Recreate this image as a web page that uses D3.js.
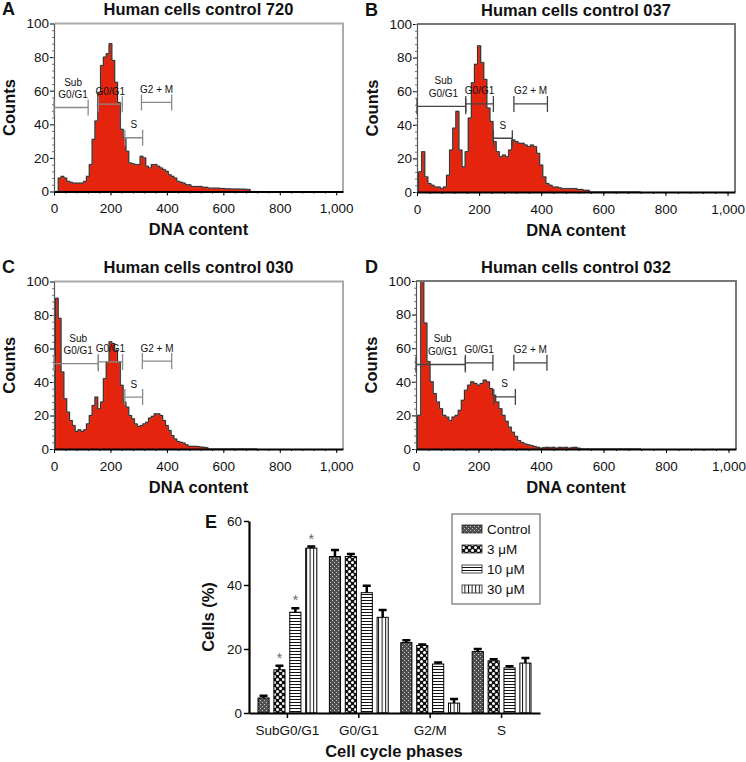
<!DOCTYPE html>
<html><head><meta charset="utf-8">
<script src="https://cdn.jsdelivr.net/npm/d3@7"></script>
<style>
body{margin:0;background:#fff;}
text{font-family:"Liberation Sans",Arial,Helvetica,sans-serif;}
</style></head><body>
<svg id="c" width="746" height="762"></svg>
<script>
// ---------------- DATA ----------------
const binChannels = [0,10,20,30,40,50,60,70,80,90,100,110,120,130,140,150,160,170,180,190,200,210,220,230,240,250,260,270,280,290,300,310,320,330,340,350,360,370,380,390,400,410,420,430,440,450,460,470,480,490,500,510,520,530,540,550,560,570,580,590,600,610,620,630,640,650,660,670,680,690,700,710,720];

const countsA = [0,0,8,9,8,6,5.5,5,5,5, 5,6,9,16,31,42,59,75,80,82, 88,78,65,53,37,32,24,17,16.5,16, 16,21,20,15,14,16,16,15,14,13, 12,10,9,8,6,5.5,5,4,4,3, 3,3,3,2.5,2.5,2,2,2,2,1.8, 1.8,1.6,1.6,1.5,1.5,1.5,1.4,1.4,1.3,1.2, 0,0,0];
const countsB = [0,12,24,9,5,4,3,3,2,3, 10,25,38,48,25,15,24,44,65,76, 87,77,67,50,42,30,24,21,22,21, 25,31,30,29,29,28,27,28,27,23, 16,9,5,4,3,3,2.5,2,2,2, 2,2,1.5,1.5,1,1,0,0,0,0, 0,0,0,0,0,0,0,0,0,0, 0,0,0];
const countsC = [0,90,78,46,30,22,17,14,10.5,11.5, 10.5,11.5,15,20,26,31,24,28,42,52, 64,63,59,52,38,28,25,20,18,15, 13.5,14,15,16,18.5,19.5,21,21,20,17, 14,11,8,6,4.5,4,3.5,2.5,1.6,1.6, 1.6,1.5,1.2,1,0.8,0,0,0,0,0, 0,0,0,0,0,0,0,0,0,0, 0,0,0];
const countsD = [0,20,104,75,52,40,33,28,24,20, 19,17,19,20,23,29,35,38,40,39, 38,39,41,40,36,32,28,24,20,16.5, 13,10,7.5,5,3.8,3,2.5,2,1.5,1, 0.5,0.8,1,0.8,1,0.5,1,0.8,1,0.5, 0.8,1,0.5,0,0,0,0,0,0,0, 0,0,0,0,0,0,0,0,0,0, 0,0,0];

// gates: [start channel, end channel, count level] for Sub G0/G1, G0/G1, S, G2 + M
const gatesA = [[0,121,50],[157,242,52],[251,314,32],[310,417,53]];
const gatesB = [[0,157,51],[157,246,52.4],[246,307,32],[312,420,52.4]];
const gatesC = [[0,157,51],[157,243,52],[251,314,31],[313,417,52.5]];
const gatesD = [[0,158,50.3],[158,246,51.3],[249,318,31],[313,419,51.3]];
const gateNames = [["Sub","G0/G1"],["G0/G1"],["S"],["G2 + M"]];

const histTitles = ["Human cells control 720","Human cells control 037","Human cells control 030","Human cells control 032"];
const panelLetters = ["A","B","C","D"];
const histXTicks = [0,200,400,600,800,1000];
const histYTicks = [0,20,40,60,80,100];

// Panel E
const phases = ["SubG0/G1","G0/G1","G2/M","S"];
const treatments = ["Control","3 μM","10 μM","30 μM"];
const meanControl = [4.7,48.9,22.0,19.2];
const mean3uM     = [13.5,48.9,21.1,16.3];
const mean10uM    = [31.5,37.6,15.3,14.1];
const mean30uM    = [51.5,29.9,3.1,15.6];
const errControl  = [0.7,2.0,0.7,0.8];
const err3uM      = [1.3,0.8,0.3,0.5];
const err10uM     = [1.2,2.2,0.5,0.5];
const err30uM     = [0.5,2.3,1.3,1.6];
const asterisks = [["SubG0/G1","3 μM"],["SubG0/G1","10 μM"],["SubG0/G1","30 μM"]];
const eYTicks = [0,20,40,60];

// ---------------- DRAW ----------------
const svg = d3.select("#c");
const defs = svg.append("defs");
const RED = "#e4240c";

const panels = [
  {x0:54, x1:343, yT:23.5, yB:191.5, counts:countsA, gates:gatesA, frame:"#aaaaaa", gate:"#8a8a8a", letterX:2, row:0},
  {x0:417, x1:735, yT:24, yB:192, counts:countsB, gates:gatesB, frame:"#777777", gate:"#444444", letterX:365, row:0},
  {x0:54, x1:343, yT:281.5, yB:449, counts:countsC, gates:gatesC, frame:"#aaaaaa", gate:"#8a8a8a", letterX:2, row:1},
  {x0:416, x1:736, yT:281, yB:449, counts:countsD, gates:gatesD, frame:"#777777", gate:"#444444", letterX:365, row:1}
];

panels.forEach((p, i) => {
  const g = svg.append("g");
  const x = d3.scaleLinear().domain([0,1024]).range([p.x0, p.x1]);
  const y = d3.scaleLinear().domain([0,100]).range([p.yB, p.yT]);
  const cid = "clip" + i;
  defs.append("clipPath").attr("id", cid).append("rect")
    .attr("x", p.x0).attr("y", p.yT).attr("width", p.x1 - p.x0).attr("height", p.yB - p.yT);

  const pts = binChannels.map((c, k) => [c, p.counts[k]]);
  const area = d3.area().x(d => x(d[0])).y0(y(0)).y1(d => y(d[1])).curve(d3.curveStep);
  const line = d3.line().x(d => x(d[0])).y(d => y(d[1])).curve(d3.curveStep);
  const hg = g.append("g").attr("clip-path", `url(#${cid})`);
  hg.append("path").attr("d", area(pts)).attr("fill", RED);
  hg.append("path").attr("d", line(pts)).attr("fill", "none").attr("stroke", "#888").attr("stroke-width", 1.6).attr("opacity", 0.6);
  hg.append("path").attr("d", line(pts)).attr("fill", "none").attr("stroke", "#111").attr("stroke-width", 0.8);

  // frame top/right
  g.append("path").attr("d", `M${p.x0},${p.yT}H${p.x1}V${p.yB}`).attr("fill", "none").attr("stroke", p.frame).attr("stroke-width", 2);

  // axes
  const ax = g.append("g").attr("transform", `translate(0,${p.yB})`)
    .call(d3.axisBottom(x).tickValues(histXTicks).tickFormat(d3.format(",")).tickSize(4).tickSizeOuter(0).tickPadding(8));
  ax.select(".domain").attr("stroke", "#000").attr("stroke-width", 2);
  ax.selectAll("text").attr("font-size", 13.5).attr("fill", "#111");
  g.append("g").attr("transform", `translate(0,${p.yB})`)
    .call(d3.axisBottom(x).tickValues(d3.range(0, 1025, 40)).tickFormat("").tickSize(2).tickSizeOuter(0))
    .call(s => s.select(".domain").remove());

  const ay = g.append("g").attr("transform", `translate(${p.x0},0)`)
    .call(d3.axisLeft(y).tickValues(histYTicks).tickSize(4).tickSizeOuter(0).tickPadding(1));
  ay.select(".domain").attr("stroke", "#555").attr("stroke-width", 1.2);
  ay.selectAll("text").attr("font-size", 13.5).attr("fill", "#111");
  g.append("g").attr("transform", `translate(${p.x0},0)`)
    .call(d3.axisLeft(y).tickValues(d3.range(0, 101, 4)).tickFormat("").tickSize(2).tickSizeOuter(0))
    .call(s => s.select(".domain").remove())
    .selectAll("line").attr("stroke", "#777");

  // gates
  p.gates.forEach((gt, k) => {
    const [a, b, lv] = gt;
    const yy = y(lv);
    g.append("path").attr("d", `M${x(a)},${yy}H${x(b)}M${x(a)},${yy-8}V${yy+8}M${x(b)},${yy-8}V${yy+8}`)
      .attr("fill", "none").attr("stroke", p.gate).attr("stroke-width", 1.3);
    const names = gateNames[k];
    const cx = x((a + b) / 2) + (k === 0 ? 2 : 0);
    names.slice().reverse().forEach((nm, j) => {
      g.append("text").attr("x", cx).attr("y", yy - 9.5 - j * 12.5)
        .attr("text-anchor", "middle").attr("font-size", 10).attr("fill", "#111").text(nm);
    });
  });

  // title, letter, labels
  const cxp = (p.x0 + p.x1) / 2;
  g.append("text").attr("x", cxp).attr("y", p.yT - 8.5).attr("text-anchor", "middle")
    .attr("font-size", 16.5).attr("font-weight", "bold").attr("fill", "#111").text(histTitles[i]);
  g.append("text").attr("x", p.letterX).attr("y", p.yT - 8.5)
    .attr("font-size", 18).attr("font-weight", "bold").attr("fill", "#111").text(panelLetters[i]);
  g.append("text").attr("x", cxp).attr("y", p.yB + 43.5).attr("text-anchor", "middle")
    .attr("font-size", 16.5).attr("font-weight", "bold").attr("fill", "#111").text("DNA content");
  g.append("text").attr("transform", `translate(${p.x0 - 39},${(p.yT + p.yB) / 2}) rotate(-90)`)
    .attr("text-anchor", "middle").attr("font-size", 16.5).attr("font-weight", "bold").attr("fill", "#111").text("Counts");
});

// ---------- Panel E ----------
// patterns
const pc = defs.append("pattern").attr("id", "pCtrl").attr("patternUnits", "userSpaceOnUse").attr("width", 4).attr("height", 4);
pc.append("rect").attr("width", 4).attr("height", 4).attr("fill", "#505050");
pc.append("rect").attr("x", 0).attr("y", 0).attr("width", 1).attr("height", 1).attr("fill", "#c8c8c8");
pc.append("rect").attr("x", 2).attr("y", 2).attr("width", 1).attr("height", 1).attr("fill", "#c8c8c8");

const p3 = defs.append("pattern").attr("id", "p3").attr("patternUnits", "userSpaceOnUse").attr("width", 6).attr("height", 6);
p3.append("rect").attr("width", 6).attr("height", 6).attr("fill", "#111");
p3.append("circle").attr("cx", 1.5).attr("cy", 1.5).attr("r", 1.5).attr("fill", "#fff");
p3.append("circle").attr("cx", 4.5).attr("cy", 4.5).attr("r", 1.5).attr("fill", "#fff");

const p10 = defs.append("pattern").attr("id", "p10").attr("patternUnits", "userSpaceOnUse").attr("width", 4).attr("height", 3);
p10.append("rect").attr("width", 4).attr("height", 3).attr("fill", "#fff");
p10.append("rect").attr("x", 0).attr("y", 0).attr("width", 4).attr("height", 1).attr("fill", "#111");

const p30 = defs.append("pattern").attr("id", "p30").attr("patternUnits", "userSpaceOnUse").attr("width", 3.6).attr("height", 4);
p30.append("rect").attr("width", 3.6).attr("height", 4).attr("fill", "#fff");
p30.append("rect").attr("x", 0).attr("y", 0).attr("width", 1).attr("height", 4).attr("fill", "#111");

const fills = ["url(#pCtrl)", "url(#p3)", "url(#p10)", "url(#p30)"];
const means = [meanControl, mean3uM, mean10uM, mean30uM];
const errs = [errControl, err3uM, err10uM, err30uM];

const eg = svg.append("g");
const xE = d3.scaleBand().domain(phases).range([249, 540]).paddingInner(0.176).paddingOuter(0.126);
const xS = d3.scaleBand().domain(treatments).range([0, xE.bandwidth()]).paddingInner(0.3);
const yE = d3.scaleLinear().domain([0, 60]).range([713, 521]);

treatments.forEach((t, ti) => {
  phases.forEach((ph, pi) => {
    const bx = xE(ph) + xS(t);
    const v = means[ti][pi], e = errs[ti][pi];
    const cx = bx + xS.bandwidth() / 2;
    eg.append("path").attr("d", `M${cx},${yE(v)}V${yE(v + e)}M${cx - 4},${yE(v + e)}H${cx + 4}`)
      .attr("stroke", "#000").attr("stroke-width", 2.5).attr("fill", "none");
    eg.append("rect").attr("x", bx).attr("y", yE(v)).attr("width", xS.bandwidth()).attr("height", yE(0) - yE(v))
      .attr("fill", fills[ti]).attr("stroke", "#000").attr("stroke-width", 1);
  });
});

asterisks.forEach(([ph, t]) => {
  const ti = treatments.indexOf(t), pi = phases.indexOf(ph);
  const top = means[ti][pi] + errs[ti][pi];
  eg.append("text").attr("x", xE(ph) + xS(t) + xS.bandwidth() / 2).attr("y", yE(top) - 3)
    .attr("text-anchor", "middle").attr("font-size", 14).attr("fill", "#666").text("*");
});

const axE = eg.append("g").attr("transform", "translate(0,713)")
  .call(d3.axisBottom(xE).tickSize(5).tickSizeOuter(0).tickPadding(7));
axE.select(".domain").attr("stroke", "#000").attr("stroke-width", 2.2);
axE.selectAll("line").attr("stroke-width", 1.5);
axE.selectAll("text").attr("font-size", 13.5).attr("fill", "#111");

const ayE = eg.append("g").attr("transform", "translate(249,0)")
  .call(d3.axisLeft(yE).tickValues(eYTicks).tickSize(5).tickSizeOuter(0).tickPadding(2));
ayE.select(".domain").attr("stroke", "#000").attr("stroke-width", 2.2);
ayE.selectAll("line").attr("stroke-width", 1.5);
ayE.selectAll("text").attr("font-size", 13.5).attr("fill", "#111");

eg.append("text").attr("x", 205).attr("y", 528).attr("font-size", 18).attr("font-weight", "bold").attr("fill", "#111").text("E");
eg.append("text").attr("transform", "translate(214,617) rotate(-90)").attr("text-anchor", "middle")
  .attr("font-size", 16.5).attr("font-weight", "bold").attr("fill", "#111").text("Cells (%)");
eg.append("text").attr("x", 394).attr("y", 757).attr("text-anchor", "middle")
  .attr("font-size", 16.5).attr("font-weight", "bold").attr("fill", "#111").text("Cell cycle phases");

// legend
const lg = eg.append("g");
lg.append("rect").attr("x", 452).attr("y", 514).attr("width", 88).attr("height", 90)
  .attr("fill", "#fff").attr("stroke", "#555").attr("stroke-width", 1);
treatments.forEach((t, ti) => {
  const cy = 529 + ti * 20;
  lg.append("rect").attr("x", 462).attr("y", cy - 4).attr("width", 20).attr("height", 8)
    .attr("fill", fills[ti]).attr("stroke", "#222").attr("stroke-width", 0.8);
  lg.append("text").attr("x", 487).attr("y", cy).attr("dy", "0.35em").attr("font-size", 13.5).attr("fill", "#111").text(t);
});
</script>
</body></html>
